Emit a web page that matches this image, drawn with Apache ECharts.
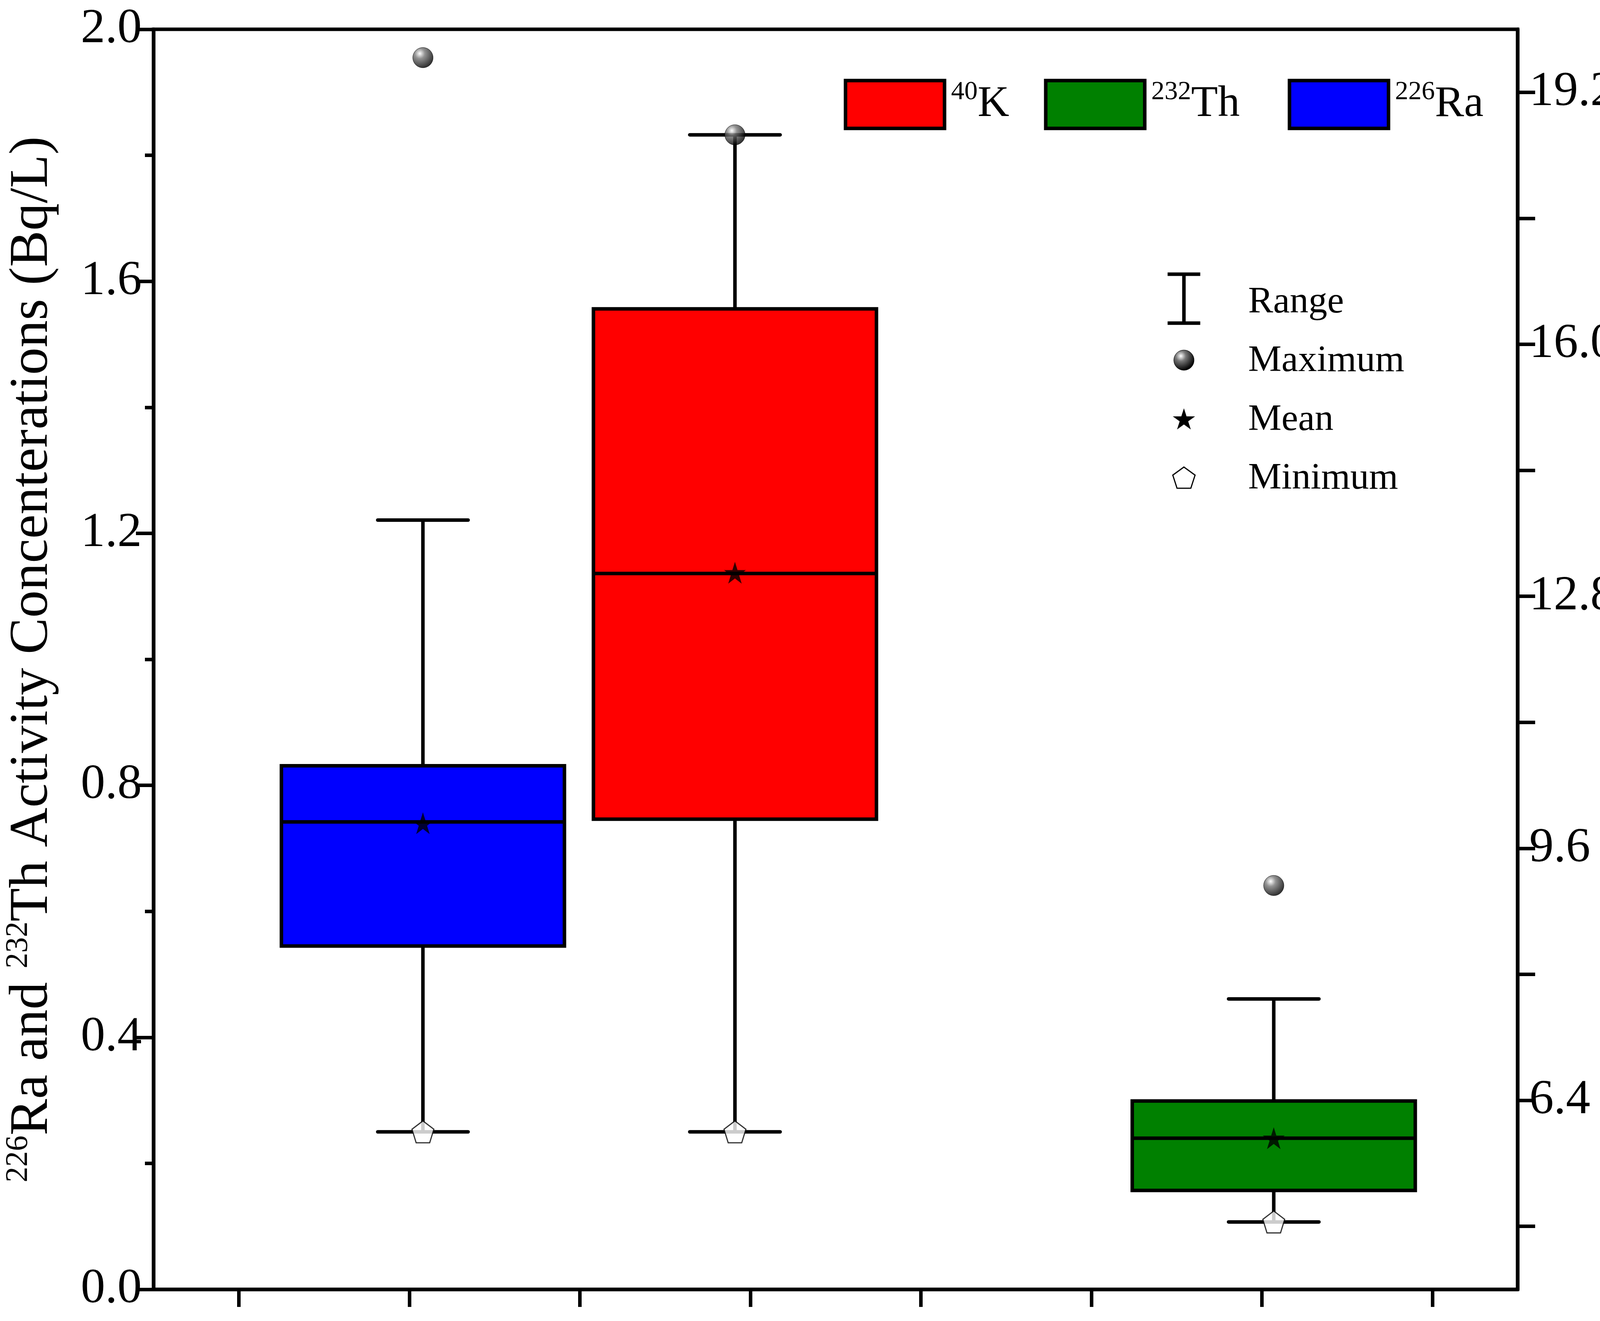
<!DOCTYPE html>
<html><head><meta charset="utf-8">
<script src="https://cdn.jsdelivr.net/npm/echarts@6/dist/echarts.min.js"></script>
<style>html,body{margin:0;padding:0;background:#fff}#c{width:4368px;height:3382px}</style>
</head><body><div id="c"></div>
<script>
// [x, min, Q1, median, Q3, whiskerTop]
const raBox = [1.58, 0.25, 0.545, 0.742, 0.831, 1.221];
const thBox = [6.57, 0.107, 0.157, 0.240, 0.299, 0.461];
const kBox  = [3.41, 6.0, 9.97, 13.09, 16.45, 18.66];
const raStats = {mean: 0.74, max: 1.955, min: 0.25};
const thStats = {mean: 0.24, max: 0.641, min: 0.107};
const kStats  = {mean: 13.1, max: 18.66, min: 6.0};
const rightLabels = [6.4, 9.6, 12.8, 16.0, 19.2];
const rightTicks = [4.8, 6.4, 8.0, 9.6, 11.2, 12.8, 14.4, 16.0, 17.6, 19.2];
const xTicks = [0.5, 1.5, 2.5, 3.5, 4.5, 5.5, 6.5, 7.5];

const FONT = 'Liberation Serif';
const LW = 9;
const chart = echarts.init(document.getElementById('c'));
const BOXW = 1.66, CAPW = 0.53;

function renderBox(color) {
  return function (params, api) {
    const x = api.value(0);
    const pMin = api.coord([x, api.value(1)]);
    const pQ1 = api.coord([x, api.value(2)]);
    const pMed = api.coord([x, api.value(3)]);
    const pQ3 = api.coord([x, api.value(4)]);
    const pTop = api.coord([x, api.value(5)]);
    const bw = api.size([BOXW, 0])[0];
    const cw = api.size([CAPW, 0])[0];
    const ls = {stroke: '#000', lineWidth: LW};
    return {type: 'group', children: [
      {type: 'line', shape: {x1: pMin[0], y1: pMin[1], x2: pTop[0], y2: pTop[1]}, style: ls},
      {type: 'line', shape: {x1: pMin[0]-cw/2, y1: pMin[1], x2: pMin[0]+cw/2, y2: pMin[1]}, style: Object.assign({lineCap:'round'}, ls)},
      {type: 'line', shape: {x1: pTop[0]-cw/2, y1: pTop[1], x2: pTop[0]+cw/2, y2: pTop[1]}, style: Object.assign({lineCap:'round'}, ls)},
      {type: 'rect', shape: {x: pQ3[0]-bw/2, y: pQ3[1], width: bw, height: pQ1[1]-pQ3[1]}, style: {fill: color, stroke: '#000', lineWidth: LW}},
      {type: 'line', shape: {x1: pMed[0]-bw/2, y1: pMed[1], x2: pMed[0]+bw/2, y2: pMed[1]}, style: ls}
    ]};
  };
}
const STAR = 'path://M0,-1 L0.2245,-0.309 L0.951,-0.309 L0.363,0.118 L0.588,0.809 L0,0.382 L-0.588,0.809 L-0.363,0.118 L-0.951,-0.309 L-0.2245,-0.309 Z';
const PENT = 'path://M0,-1 L0.951,-0.309 L0.588,0.809 L-0.588,0.809 L-0.951,-0.309 Z';
function sphere(){ return new echarts.graphic.RadialGradient(0.35, 0.3, 0.7, [{offset:0,color:'#ffffff'},{offset:0.35,color:'#777'},{offset:1,color:'#000'}]); }

function markers(stats, x, axis) {
  return [
    {type:'scatter', yAxisIndex: axis, symbol:'circle', symbolSize: 52, data:[[x, stats.max]], itemStyle:{color: sphere(), borderColor:'#000', borderWidth:1}, z:5},
    {type:'scatter', yAxisIndex: axis, symbol: STAR, symbolSize: 56, data:[[x, stats.mean]], itemStyle:{color:'#000'}, z:5},
    {type:'scatter', yAxisIndex: axis, symbol: PENT, symbolSize: 56, data:[[x, stats.min]], itemStyle:{color:'#fff', borderColor:'#000', borderWidth:3}, z:5}
  ];
}

const sup = {fontFamily: FONT, fontSize: 80, verticalAlign: 'top', lineHeight: 150, color:'#000'};
const nrm = {fontFamily: FONT, fontSize: 140, lineHeight: 150, color:'#000'};
const legSup = {fontFamily: FONT, fontSize: 68, verticalAlign:'top', lineHeight: 130, color:'#000'};
const legN = {fontFamily: FONT, fontSize: 112, lineHeight: 130, color:'#000'};

const s = 4368/1568;
function legRect(x, color, sp, el) {
  return [
    {type:'rect', shape:{x:x*s, y:74*s, width:91*s, height:44*s}, style:{fill:color, stroke:'#000', lineWidth:LW}},
    {type:'text', x:(x+97)*s, y:96*s, style:{text:'{s|'+sp+'}{n|'+el+'}', rich:{s:legSup, n:legN}, verticalAlign:'middle'}}
  ];
}
function starPts(cx, cy, r) {
  const p = [];
  for (let i = 0; i < 10; i++) {
    const a = -Math.PI/2 + i*Math.PI/5, rr = i%2 ? r*0.382 : r;
    p.push([cx + rr*Math.cos(a), cy + rr*Math.sin(a)]);
  }
  return p;
}
function pentPts(cx, cy, r) {
  const p = [];
  for (let i = 0; i < 5; i++) { const a = -Math.PI/2 + i*2*Math.PI/5; p.push([cx + r*Math.cos(a), cy + r*Math.sin(a)]); }
  return p;
}
const symText = {fontFamily: FONT, fontSize: 96, fill:'#000'};
const graphics = [].concat(
  legRect(777, '#ff0000', '40', 'K'),
  legRect(961, '#008000', '232', 'Th'),
  legRect(1185, '#0000ff', '226', 'Ra'),
  [
    {type:'line', shape:{x1:1088*s, y1:252*s, x2:1088*s, y2:297*s}, style:{stroke:'#000', lineWidth:LW}},
    {type:'line', shape:{x1:1073*s, y1:252*s, x2:1103*s, y2:252*s}, style:{stroke:'#000', lineWidth:LW}},
    {type:'line', shape:{x1:1073*s, y1:297*s, x2:1103*s, y2:297*s}, style:{stroke:'#000', lineWidth:LW}},
    {type:'circle', shape:{cx:1088*s, cy:331*s, r:26}, style:{fill: sphere(), stroke:'#000', lineWidth:1}},
    {type:'polygon', shape:{points: starPts(1088*s, 386*s, 30)}, style:{fill:'#000'}},
    {type:'polygon', shape:{points: pentPts(1088*s, 440*s, 30)}, style:{fill:'#fff', stroke:'#000', lineWidth:3}},
    {type:'text', x:1147*s, y:278*s, style:Object.assign({text:'Range', verticalAlign:'middle'}, symText)},
    {type:'text', x:1147*s, y:332*s, style:Object.assign({text:'Maximum', verticalAlign:'middle'}, symText)},
    {type:'text', x:1147*s, y:386*s, style:Object.assign({text:'Mean', verticalAlign:'middle'}, symText)},
    {type:'text', x:1147*s, y:440*s, style:Object.assign({text:'Minimum', verticalAlign:'middle'}, symText)}
  ]
);

const axisLine = {show:true, onZero:false, lineStyle:{color:'#000', width:LW}};
chart.setOption({
  backgroundColor:'#fff',
  animation:false,
  grid:{left:390, right:474, top:75, bottom:81, show:true, borderColor:'#000', borderWidth:LW, backgroundColor:'transparent'},
  xAxis:{type:'value', min:0, max:8, axisLine:axisLine, splitLine:{show:false},
    axisTick:{show:true, inside:false, length:45, customValues:xTicks, lineStyle:{width:LW, color:'#000'}},
    axisLabel:{show:false}},
  yAxis:[
    {type:'value', min:0, max:2, interval:0.4, position:'left', axisLine:axisLine, splitLine:{show:false},
     axisTick:{show:true, length:45, lineStyle:{width:LW, color:'#000'}},
     minorTick:{show:true, splitNumber:2, length:22, lineStyle:{width:LW, color:'#000'}},
     axisLabel:{fontFamily:FONT, fontSize:125, color:'#000', margin:30, formatter:v=>v.toFixed(1)},
     name:'{s|226}{n|Ra and }{s|232}{n|Th Activity Concenterations (Bq/L)}',
     nameLocation:'middle', nameRotate:90, nameGap:235, nameTextStyle:{rich:{s:sup, n:nrm}}},
    {type:'value', min:4, max:20, position:'right', axisLine:axisLine, splitLine:{show:false},
     axisTick:{show:true, length:45, customValues:rightTicks, lineStyle:{width:LW, color:'#000'}},
     axisLabel:{fontFamily:FONT, fontSize:125, color:'#000', margin:30, customValues:rightLabels, formatter:v=>v.toFixed(1)},
     name:'{s|40}{n|K Activity Concenterations (Bq/L)}',
     nameLocation:'middle', nameRotate:90, nameGap:330, nameTextStyle:{rich:{s:sup, n:nrm}}}
  ],
  graphic: graphics,
  series:[
    {type:'custom', yAxisIndex:0, renderItem:renderBox('#0000ff'), data:[raBox], z:2},
    {type:'custom', yAxisIndex:1, renderItem:renderBox('#ff0000'), data:[kBox], z:2},
    {type:'custom', yAxisIndex:0, renderItem:renderBox('#008000'), data:[thBox], z:2}
  ].concat(markers(raStats, raBox[0], 0), markers(kStats, kBox[0], 1), markers(thStats, thBox[0], 0))
});
</script></body></html>
